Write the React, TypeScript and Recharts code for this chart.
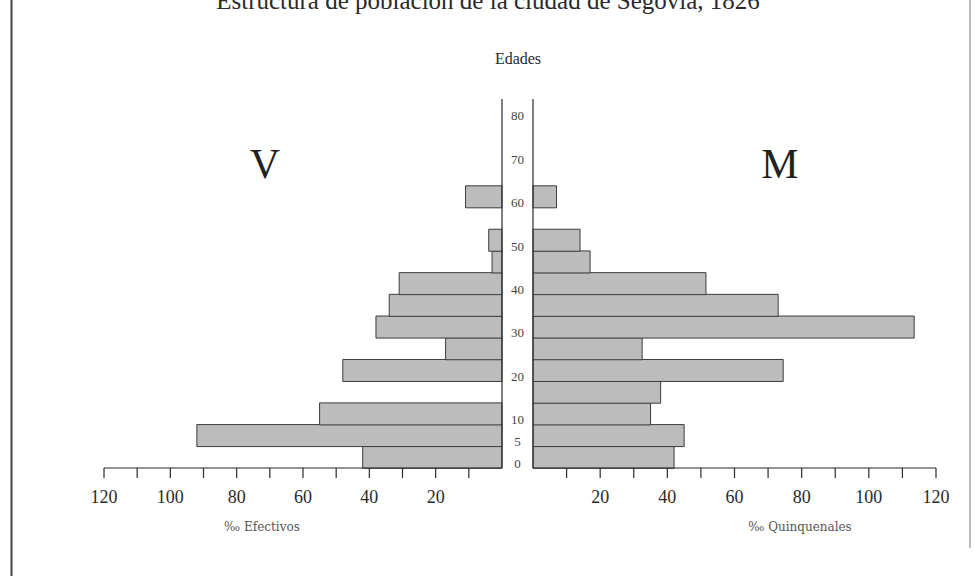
import React from 'react';
import { BarChart, Bar, XAxis, YAxis } from 'recharts';

// grupos quinquenales de edad, de abajo arriba
const ages = [
  '0-4', '5-9', '10-14', '15-19', '20-24', '25-29', '30-34', '35-39', '40-44',
  '45-49', '50-54', '55-59', '60-64', '65-69', '70-74', '75-79', '80-84',
];
const ageTickLabels = ['0', '5', '10', '', '20', '', '30', '', '40', '', '50', '', '60', '', '70', '', '80'];

// ‰ por grupo de edad
const varones = [42, 92, 55, 0, 48, 17, 38, 34, 31, 3, 4, 0, 11, 0, 0, 0, 0];
const mujeres = [42, 45, 35, 38, 74.5, 32.5, 113.5, 73, 51.5, 17, 14, 0, 7, 0, 0, 0, 0];

const xTicks = [10, 20, 30, 40, 50, 60, 70, 80, 90, 100, 110, 120];

const rows = ages.map((age, i) => ({ age, label: ageTickLabels[i], v: varones[i], m: mujeres[i] }));

const W = 975;
const H = 576;
const TOP = 99;
const BOTTOM = 68;
const AXIS_H = 40;
const LEFT_END = 104;
const LEFT_ZERO = 502;
const RIGHT_ZERO = 533;
const RIGHT_END = 936;
const Y_W = 2;
const MID_X = (LEFT_ZERO + RIGHT_ZERO) / 2;

const serif = '"Liberation Serif", "DejaVu Serif", serif';
const wideSerif = '"DejaVu Serif", serif';
const ink = '#2a2a2a';
const barFill = '#bcbcbc';
const barStroke = '#3c3c3c';

const fmt = (v: number) => (v % 20 === 0 ? String(v) : '');

const AgeTick = (props: any) => {
  const { y, payload } = props;
  const row = rows.find((r) => r.age === payload.value);
  if (!row || !row.label) return null;
  return (
    <text x={MID_X} y={y + 6} textAnchor="middle" dominantBaseline="central"
      fontFamily={serif} fontSize={13} fill="#444">
      {row.label}
    </text>
  );
};

const xAxisProps = {
  type: 'number' as const,
  domain: [0, 120],
  ticks: xTicks,
  interval: 0 as const,
  tickFormatter: fmt,
  tickSize: 10,
  tickMargin: 12,
  height: AXIS_H,
  axisLine: { stroke: ink, strokeWidth: 1.2 },
  tickLine: { stroke: ink, strokeWidth: 1.2 },
  tick: { fill: ink, fontSize: 18, fontFamily: serif },
};

export default function App() {
  return (
    <div style={{ position: 'absolute', left: 0, top: 0, width: W, height: H, background: '#fff', overflow: 'hidden' }}>
      <svg width={W} height={H} style={{ position: 'absolute', left: 0, top: 0 }}>
        <text x={488} y={9} textAnchor="middle" fontFamily={serif} fontSize={25} fill={ink}>
          Estructura de población de la ciudad de Segovia, 1826
        </text>
        <line x1={11.5} y1={0} x2={11.5} y2={H} stroke="#444" strokeWidth={2} />
        <line x1={970} y1={0} x2={970} y2={548} stroke="#777" strokeWidth={1} />
        <text x={518} y={58} textAnchor="middle" dominantBaseline="central" fontFamily={serif} fontSize={16} fill={ink}>
          Edades
        </text>
        <text x={265} y={164} textAnchor="middle" dominantBaseline="central" fontFamily={serif} fontSize={42} fill="#222">
          V
        </text>
        <text x={780} y={164} textAnchor="middle" dominantBaseline="central" fontFamily={serif} fontSize={42} fill="#222">
          M
        </text>
        <text x={262} y={527} textAnchor="middle" dominantBaseline="central" fontFamily={wideSerif} fontSize={12} fill="#555">
          ‰ Efectivos
        </text>
        <text x={800} y={527} textAnchor="middle" dominantBaseline="central" fontFamily={wideSerif} fontSize={12} fill="#555">
          ‰ Quinquenales
        </text>
      </svg>

      <div style={{ position: 'absolute', left: 0, top: 0 }}>
        <BarChart layout="vertical" width={W} height={H} data={rows} barCategoryGap={0}
          margin={{ top: TOP, right: W - LEFT_ZERO - Y_W, bottom: BOTTOM, left: LEFT_END }}>
          <XAxis {...xAxisProps} reversed />
          <YAxis type="category" dataKey="age" orientation="right" reversed width={Y_W}
            tick={false} tickLine={false} axisLine={{ stroke: ink, strokeWidth: 1.2 }} />
          <Bar dataKey="v" fill={barFill} stroke={barStroke} strokeWidth={1} isAnimationActive={false} />
        </BarChart>
      </div>

      <div style={{ position: 'absolute', left: 0, top: 0 }}>
        <BarChart layout="vertical" width={W} height={H} data={rows} barCategoryGap={0}
          margin={{ top: TOP, right: W - RIGHT_END, bottom: BOTTOM, left: RIGHT_ZERO - Y_W }}>
          <XAxis {...xAxisProps} />
          <YAxis type="category" dataKey="age" orientation="left" reversed width={Y_W}
            tick={<AgeTick />} tickLine={false} interval={0} axisLine={{ stroke: ink, strokeWidth: 1.2 }} />
          <Bar dataKey="m" fill={barFill} stroke={barStroke} strokeWidth={1} isAnimationActive={false} />
        </BarChart>
      </div>
    </div>
  );
}
